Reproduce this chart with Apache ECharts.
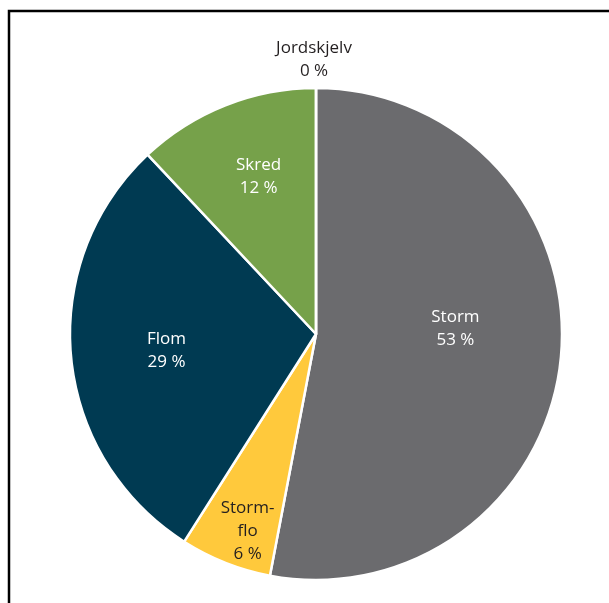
<!DOCTYPE html>
<html>
<head>
<meta charset="utf-8">
<script src="https://cdn.jsdelivr.net/npm/echarts@6/dist/echarts.min.js"></script>
<style>
  html, body { margin: 0; padding: 0; background: #fff; }
  #chart { width: 609px; height: 603px; }
</style>
</head>
<body>
<div id="chart"></div>
<script>
// Share of damage by natural hazard type (percent)
const categories = ['Storm', 'Storm-\nflo', 'Flom', 'Skred', 'Jordskjelv'];
const shares = [53, 6, 29, 12, 0];

// Slice colours and label styling per category
const sliceColors = ['#6b6b6e', '#ffc93c', '#003a52', '#76a14a', '#ffffff'];
const labelColors = ['#ffffff', '#231f20', '#ffffff', '#ffffff', '#231f20'];
// Extra nudge applied to each label after the library positions it
const labelShift = [[14, -17], [-22, 80], [-24, 5], [-11, -40], [-2, -148]];

const chart = echarts.init(document.getElementById('chart'), null, { renderer: 'canvas' });

const data = categories.map((name, i) => ({
  name: name,
  value: shares[i],
  itemStyle: { color: sliceColors[i] },
  label: { color: labelColors[i] }
}));

chart.setOption({
  animation: false,
  backgroundColor: '#ffffff',
  graphic: [{
    type: 'polyline',
    shape: { points: [[9, 603], [9, 11], [609, 11]] },
    style: { stroke: '#000', lineWidth: 2.5, fill: null },
    silent: true
  }],
  series: [{
    type: 'pie',
    center: [316, 334],
    radius: [0, 246],
    startAngle: 90,
    clockwise: true,
    avoidLabelOverlap: false,
    emphasis: { disabled: true },
    itemStyle: { borderColor: '#ffffff', borderWidth: 2.5 },
    label: {
      show: true,
      position: 'inside',
      fontFamily: 'Open Sans',
      fontSize: 17,
      lineHeight: 23,
      align: 'center',
      formatter: p => p.name + '\n' + p.value + ' %'
    },
    labelLine: { show: false },
    labelLayout: p => ({ dx: labelShift[p.dataIndex][0], dy: labelShift[p.dataIndex][1] }),
    data: data
  }]
});
</script>
</body>
</html>
